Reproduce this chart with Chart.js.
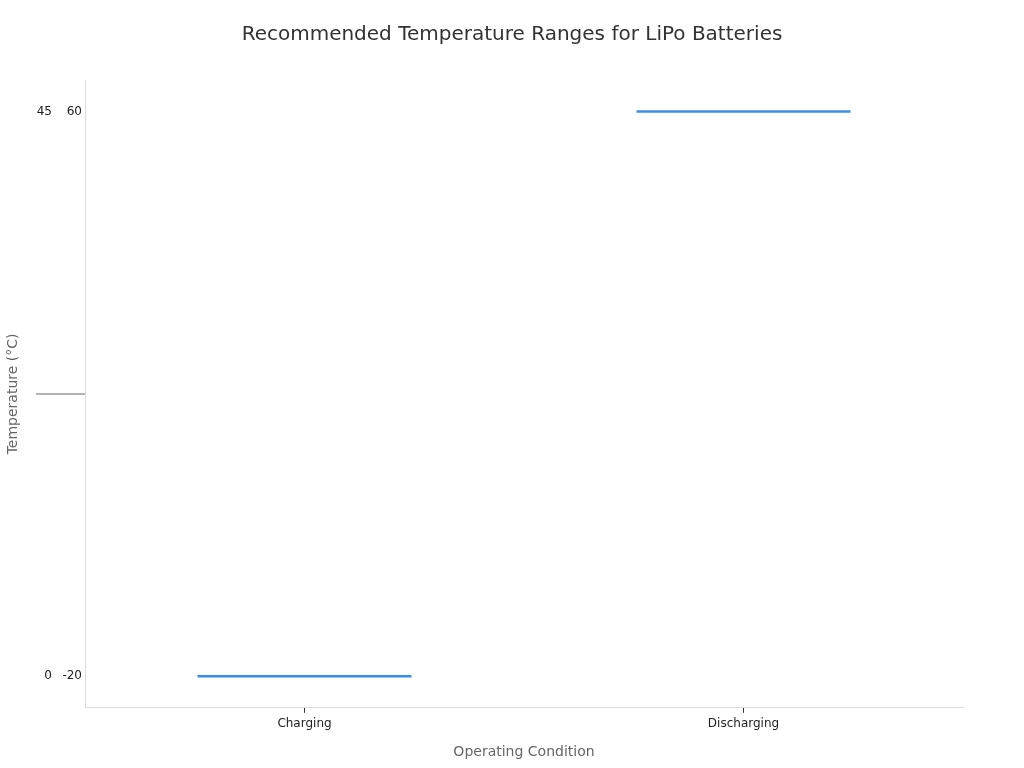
<!DOCTYPE html>
<html lang="en">
<head>
<meta charset="UTF-8">
<title>Recommended Temperature Ranges for LiPo Batteries</title>
<script src="https://cdn.jsdelivr.net/npm/chart.js"></script>
<style>
  html, body { margin: 0; padding: 0; background: #fff; overflow: hidden; }
  #tempChart { position: absolute; left: 0; top: 0; width: 1024px; height: 768px; }
</style>
</head>
<body>
<canvas id="tempChart" width="1024" height="768"></canvas>
<script>
// data
const categories = ['Charging', 'Discharging'];
const chargingRange = [0, 45];       // °C, min / max
const dischargingRange = [-20, 60];  // °C, min / max

// each axis only shows its own min and max, with a little room around them
function paddedAxis(range) {
  const pad = (range[1] - range[0]) * 0.056;
  return { min: range[0] - pad, max: range[1] + pad };
}

const tickFont = { family: 'DejaVu Sans', size: 12 };
const titleFont = { family: 'DejaVu Sans', size: 14 };

// short grey marker at mid height on the left side
const midMarker = {
  id: 'midMarker',
  afterDraw(chart) {
    const area = chart.chartArea;
    const ctx = chart.ctx;
    const y = (area.top + area.bottom) / 2;
    ctx.save();
    ctx.strokeStyle = '#9a9a9a';
    ctx.lineWidth = 1.5;
    ctx.beginPath();
    ctx.moveTo(area.left - 49, y);
    ctx.lineTo(area.left, y);
    ctx.stroke();
    ctx.restore();
  }
};

const ctx = document.getElementById('tempChart').getContext('2d');
const chart = new Chart(ctx, {
  type: 'line',
  data: {
    labels: categories,
    datasets: [{
      label: 'Charging',
      data: [chargingRange[0], null],
      yAxisID: 'yC',
      showLine: false,
      pointStyle: 'line',
      pointRadius: 107,
      pointHoverRadius: 107,
      pointBorderWidth: 2.5,
      pointBorderColor: '#3b8ee6',
      borderColor: '#3b8ee6'
    }, {
      label: 'Discharging',
      data: [null, dischargingRange[1]],
      yAxisID: 'yD',
      showLine: false,
      pointStyle: 'line',
      pointRadius: 107,
      pointHoverRadius: 107,
      pointBorderWidth: 2.5,
      pointBorderColor: '#3b8ee6',
      borderColor: '#3b8ee6'
    }]
  },
  options: {
    responsive: false,
    devicePixelRatio: 1,
    animation: false,
    layout: { autoPadding: false, padding: { top: 12, right: 5, bottom: 5, left: 5 } },
    plugins: {
      legend: { display: false },
      tooltip: { enabled: false },
      title: {
        display: true,
        text: 'Recommended Temperature Ranges for LiPo Batteries',
        color: '#333',
        font: { family: 'DejaVu Sans', size: 20, weight: 'normal' },
        padding: { top: 11, bottom: 33 }
      }
    },
    scales: {
      x: {
        type: 'category',
        offset: true,
        grid: { display: true, drawOnChartArea: false, drawTicks: true, tickLength: 5, color: '#333' },
        border: { display: true, color: '#dcdcdc', width: 1 },
        ticks: { color: '#222', font: tickFont, padding: 4 },
        title: {
          display: true,
          text: 'Operating Condition',
          color: '#666',
          font: titleFont,
          padding: { top: 9, bottom: 2 }
        }
      },
      yC: {
        type: 'linear',
        position: 'left',
        weight: 1,
        min: paddedAxis(chargingRange).min,
        max: paddedAxis(chargingRange).max,
        afterBuildTicks: (scale) => { scale.ticks = chargingRange.map(v => ({ value: v })); },
        afterFit: (scale) => { scale.width = 51; },
        grid: { display: false, tickLength: 0 },
        border: { display: false },
        ticks: { color: '#222', font: tickFont, padding: 4 },
        title: {
          display: true,
          text: 'Temperature (°C)',
          color: '#666',
          font: titleFont,
          padding: 0
        }
      },
      yD: {
        type: 'linear',
        position: 'left',
        weight: 0,
        min: paddedAxis(dischargingRange).min,
        max: paddedAxis(dischargingRange).max,
        afterBuildTicks: (scale) => { scale.ticks = dischargingRange.map(v => ({ value: v })); },
        afterFit: (scale) => { scale.width = 29; },
        grid: { display: false, tickLength: 0 },
        border: { display: true, color: '#dcdcdc', width: 1 },
        ticks: { color: '#222', font: tickFont, padding: 3 }
      },
      // empty right-hand spacer so the title stays centred on the page
      spacer: {
        type: 'linear',
        position: 'right',
        display: true,
        afterFit: (scale) => { scale.width = 56; },
        grid: { display: false, tickLength: 0 },
        border: { display: false },
        ticks: { display: false }
      }
    }
  },
  plugins: [midMarker]
});
</script>
</body>
</html>
